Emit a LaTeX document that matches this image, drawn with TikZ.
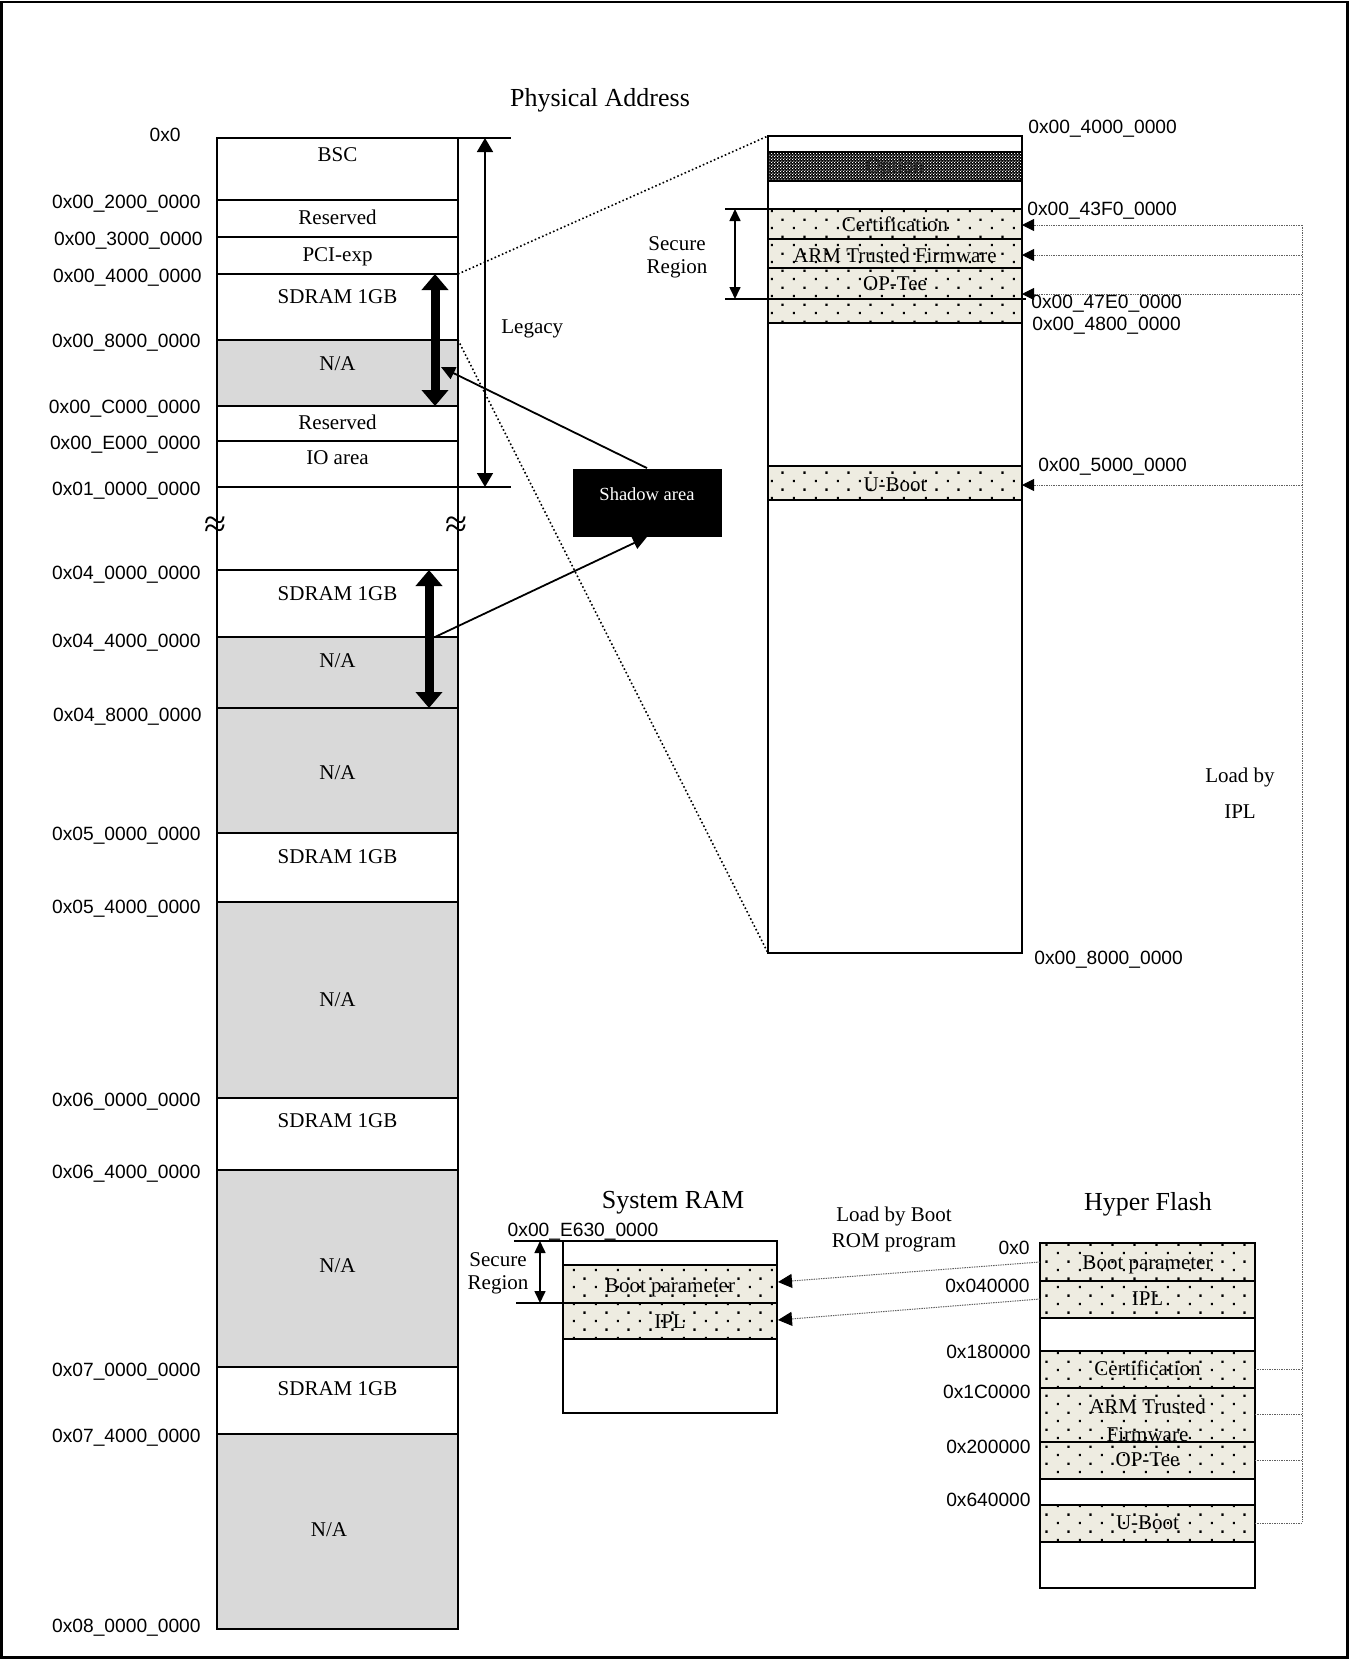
\documentclass[tikz,border=0pt]{standalone}
\usepackage{fontspec}
\setmainfont{Liberation Serif}
\newfontfamily\addrfont{Liberation Sans}
\usetikzlibrary{arrows.meta,patterns}

\pgfdeclarepatternformonly{bootdots}{\pgfqpoint{0pt}{0pt}}{\pgfqpoint{11pt}{8.4pt}}{\pgfqpoint{11pt}{8.4pt}}{%
  \pgfpathrectangle{\pgfqpoint{0.4pt}{0.4pt}}{\pgfqpoint{1.15pt}{1.15pt}}%
  \pgfpathrectangle{\pgfqpoint{5.9pt}{4.6pt}}{\pgfqpoint{1.15pt}{1.15pt}}%
  \pgfusepath{fill}}
\pgfdeclarepatternformonly{optchecker}{\pgfqpoint{0pt}{0pt}}{\pgfqpoint{1.6pt}{1.6pt}}{\pgfqpoint{1.6pt}{1.6pt}}{%
  \pgfpathrectangle{\pgfqpoint{0pt}{0pt}}{\pgfqpoint{0.7pt}{0.7pt}}%
  \pgfpathrectangle{\pgfqpoint{0.8pt}{0.8pt}}{\pgfqpoint{0.7pt}{0.7pt}}%
  \pgfusepath{fill}}

\definecolor{nagray}{HTML}{D9D9D9}
\definecolor{beige}{HTML}{EEECE1}
\definecolor{feedgray}{HTML}{606060}

\tikzset{
  memline/.style={line width=0.9pt},
  nafill/.style={fill=nagray},
  dotfill/.style={preaction={fill=beige}, pattern=bootdots, pattern color=black},
  lbl/.style={font=\fontsize{10.5pt}{12pt}\selectfont, inner sep=0pt, text height=6.5pt, text depth=0pt},
  lbltwo/.style={font=\fontsize{10.5pt}{11.5pt}\selectfont, inner sep=0pt, align=center},
  addr/.style={font=\addrfont\fontsize{9.6pt}{11pt}\selectfont, inner sep=0pt, text height=6.9pt, text depth=0pt},
  ttl/.style={font=\fontsize{13pt}{15pt}\selectfont, inner sep=0pt, text height=8.6pt, text depth=0pt},
  shadowarr/.style={line width=4.5pt,
    {Triangle[length=8pt,width=13pt]}-{Triangle[length=8pt,width=13pt]}},
  legarr/.style={line width=0.8pt,
    {Triangle[length=7pt,width=8pt]}-{Triangle[length=7pt,width=8pt]}},
  secarr/.style={line width=0.8pt,
    {Triangle[length=6pt,width=5.5pt]}-{Triangle[length=6pt,width=5.5pt]}},
  pointer/.style={line width=0.9pt, -{Triangle[length=7pt,width=6.5pt]}},
  zoomline/.style={line width=0.8pt, dash pattern=on 0.8pt off 1.2pt},
  feed/.style={line width=0.5pt, color=feedgray, dash pattern=on 0.7pt off 0.5pt},
  feedarr/.style={feed, -{Triangle[length=6pt,width=6pt]}, arrows={[color=black]}},
  romarr/.style={feed, -{Triangle[length=7pt,width=7pt]}, arrows={[color=black]}},
  brk/.style={font=\fontsize{20pt}{22pt}\selectfont, inner sep=0pt},
}

\begin{document}
\begin{tikzpicture}[x=0.5pt, y=-0.5pt]
\useasboundingbox (0,0) rectangle (1349,1659);
\draw[line width=1.3pt] (1.5,2) rectangle (1347.5,1657.5);

% ---------- Physical address column ----------
\node[ttl] (phystitle) at (600,98) {Physical Address};
\fill[nafill] (217,340) rectangle (458,406);
\fill[nafill] (217,637) rectangle (458,833);
\fill[nafill] (217,902) rectangle (458,1098);
\fill[nafill] (217,1170) rectangle (458,1367);
\fill[nafill] (217,1434) rectangle (458,1629);
\draw[memline] (217,138) rectangle (458,1629);
\foreach \yy in {200,237,274,340,406,441,487,570,637,708,833,902,1098,1170,1367,1434}
  \draw[memline] (217,\yy) -- (458,\yy);
\draw[memline] (458,138) -- (511,138);
\draw[memline] (458,487) -- (511,487);

\node[lbl] (bsc) at (337.5,155) {BSC};
\node[lbl] (res1) at (337.5,218) {Reserved};
\node[lbl] (pci) at (337.5,255) {PCI-exp};
\node[lbl] (sd0) at (337.5,297) {SDRAM 1GB};
\node[lbl] (na0) at (337.5,364) {N/A};
\node[lbl] (res2) at (337.5,423) {Reserved};
\node[lbl] (io) at (337.5,458) {IO area};
\node[lbl] (sd4) at (337.5,594) {SDRAM 1GB};
\node[lbl] (na4) at (337.5,661) {N/A};
\node[lbl] (na48) at (337.5,773) {N/A};
\node[lbl] (sd5) at (337.5,857) {SDRAM 1GB};
\node[lbl] (na54) at (337.5,1000) {N/A};
\node[lbl] (sd6) at (337.5,1121) {SDRAM 1GB};
\node[lbl] (na64) at (337.5,1266) {N/A};
\node[lbl] (sd7) at (337.5,1389) {SDRAM 1GB};
\node[lbl] (na74) at (329,1530) {N/A};

\node[brk] (brkl) at (215,527) {≈};
\node[brk] (brkr) at (456,527) {≈};

\node[addr, anchor=east] (a0) at (181,135) {0x0};
\node[addr, anchor=east] (a1) at (201,202) {0x00\_2000\_0000};
\node[addr, anchor=east] (a2) at (203,239) {0x00\_3000\_0000};
\node[addr, anchor=east] (a3) at (202,276) {0x00\_4000\_0000};
\node[addr, anchor=east] (a4) at (201,341) {0x00\_8000\_0000};
\node[addr, anchor=east] (a5) at (201,407) {0x00\_C000\_0000};
\node[addr, anchor=east] (a6) at (201,443) {0x00\_E000\_0000};
\node[addr, anchor=east] (a7) at (201,489) {0x01\_0000\_0000};
\node[addr, anchor=east] (a8) at (201,573) {0x04\_0000\_0000};
\node[addr, anchor=east] (a9) at (201,641) {0x04\_4000\_0000};
\node[addr, anchor=east] (a10) at (202,715) {0x04\_8000\_0000};
\node[addr, anchor=east] (a11) at (201,834) {0x05\_0000\_0000};
\node[addr, anchor=east] (a12) at (201,907) {0x05\_4000\_0000};
\node[addr, anchor=east] (a13) at (201,1100) {0x06\_0000\_0000};
\node[addr, anchor=east] (a14) at (201,1172) {0x06\_4000\_0000};
\node[addr, anchor=east] (a15) at (201,1370) {0x07\_0000\_0000};
\node[addr, anchor=east] (a16) at (201,1436) {0x07\_4000\_0000};
\node[addr, anchor=east] (a17) at (201,1626) {0x08\_0000\_0000};

% Legacy
\coordinate (legtop) at (485,138);
\coordinate (legbot) at (485,487);
\draw[legarr] (legtop) -- (legbot);
\node[lbl, anchor=west] (legacy) at (501,327) {Legacy};

% Shadow arrows
\coordinate (sh1t) at (435,274);
\coordinate (sh1b) at (435,406);
\coordinate (sh2t) at (429,570);
\coordinate (sh2b) at (429,708);
\draw[shadowarr] (sh1t) -- (sh1b);
\draw[shadowarr] (sh2t) -- (sh2b);
\node[fill=black, minimum width=74.5pt, minimum height=34pt, inner sep=0pt] (shadow) at (647,502.5) {};
\node[font=\fontsize{9.25pt}{11pt}\selectfont, text=white, inner sep=0pt, text height=6pt, text depth=0pt] (shadowtxt) at (647,494) {Shadow area};
\coordinate (shhit) at (441,367);
\coordinate (shsrc) at (435,637);
\draw[pointer] (shadow.north) -- (shhit);
\draw[pointer] (shsrc) -- (shadow.south);

% ---------- Zoomed SDRAM region ----------
\coordinate (phys4) at (458,274);
\coordinate (phys8) at (458,340);
\coordinate (rbtl) at (768,136);
\coordinate (rbbl) at (768,953);
\draw[zoomline] (phys4) -- (rbtl);
\draw[zoomline] (phys8) -- (rbbl);

\fill[black] (768,152) rectangle (1022,181);
\fill[pattern=optchecker, pattern color=white] (768,152) rectangle (1022,181);
\fill[dotfill] (768,209) rectangle (1022,323);
\fill[dotfill] (768,466) rectangle (1022,500);
\draw[memline] (rbtl) rectangle (1022,953);
\foreach \yy in {152,181,209,239,268,323,466,500}
  \draw[memline] (768,\yy) -- (1022,\yy);
\node[lbl, text=black!85] (opt) at (895,166) {Option};
\node[lbl] (rcert) at (895,225) {Certification};
\node[lbl] (ratf) at (895,256) {ARM Trusted Firmware};
\node[lbl] (rop) at (895,284) {OP-Tee};
\node[lbl] (rub) at (895,485) {U-Boot};

\coordinate (sectop) at (725,209);
\coordinate (secbot) at (725,299);
\draw[memline] (sectop) -- (768,209);
\draw[memline] (secbot) -- (1026,299);
\draw[secarr] (735,209) -- (735,299);
\node[lbltwo] (secreg1) at (677,257) {Secure\\Region};

\node[addr, anchor=west] (r1) at (1028,127) {0x00\_4000\_0000};
\node[addr, anchor=west] (r2) at (1027,209) {0x00\_43F0\_0000};
\node[addr, anchor=west] (r3) at (1031,302) {0x00\_47E0\_0000};
\node[addr, anchor=west] (r4) at (1032,324) {0x00\_4800\_0000};
\node[addr, anchor=west] (r5) at (1038,465) {0x00\_5000\_0000};
\node[addr, anchor=west] (r6) at (1034,958) {0x00\_8000\_0000};

% ---------- System RAM ----------
\node[ttl] (sysram) at (673,1200) {System RAM};
\fill[dotfill] (563,1265) rectangle (777,1339);
\draw[memline] (563,1241) rectangle (777,1413);
\foreach \yy in {1265,1303,1339}
  \draw[memline] (563,\yy) -- (777,\yy);
\draw[memline] (514,1241) -- (563,1241);
\draw[memline] (516,1303) -- (563,1303);
\draw[secarr] (540,1241) -- (540,1303);
\node[lbltwo] (secreg2) at (498,1273) {Secure\\Region};
\node[addr] (sraddr) at (583,1230) {0x00\_E630\_0000};
\node[lbl] (srbp) at (670,1286) {Boot parameter};
\node[lbl] (sripl) at (670,1322) {IPL};

% ---------- Hyper Flash ----------
\node[ttl] (hftitle) at (1148,1202) {Hyper Flash};
\fill[dotfill] (1040,1243) rectangle (1255,1318);
\fill[dotfill] (1040,1351) rectangle (1255,1479);
\fill[dotfill] (1040,1505) rectangle (1255,1542);
\draw[memline] (1040,1243) rectangle (1255,1588);
\foreach \yy in {1281,1318,1351,1388,1442,1479,1505,1542}
  \draw[memline] (1040,\yy) -- (1255,\yy);
\node[lbl] (hfbp) at (1147.5,1263) {Boot parameter};
\node[lbl] (hfipl) at (1147.5,1299) {IPL};
\node[lbl] (hfcert) at (1147.5,1369) {Certification};
\node[font=\fontsize{10.5pt}{14pt}\selectfont, inner sep=0pt, align=center] (hfatf) at (1147.5,1420) {ARM Trusted\\Firmware};
\node[lbl] (hfop) at (1147.5,1460) {OP-Tee};
\node[lbl] (hfub) at (1147.5,1523) {U-Boot};

\node[addr, anchor=east] (h0) at (1030,1248) {0x0};
\node[addr, anchor=east] (h1) at (1030,1286) {0x040000};
\node[addr, anchor=east] (h2) at (1031,1352) {0x180000};
\node[addr, anchor=east] (h3) at (1031,1392) {0x1C0000};
\node[addr, anchor=east] (h4) at (1031,1447) {0x200000};
\node[addr, anchor=east] (h5) at (1031,1500) {0x640000};

% Boot ROM load
\node[font=\fontsize{10.5pt}{13pt}\selectfont, inner sep=0pt, align=center] (romtxt) at (894,1229) {Load by Boot\\ROM program};
\coordinate (hfbpW) at (1040,1262);
\coordinate (hfiplW) at (1040,1299);
\coordinate (srbpE) at (778,1282);
\coordinate (sriplE) at (778,1320);
\draw[romarr] (hfbpW) -- (srbpE);
\draw[romarr] (hfiplW) -- (sriplE);

% IPL load bus
\coordinate (busx) at (1302,0);
\coordinate (hfCe) at (1255,1369);
\coordinate (hfAe) at (1255,1414);
\coordinate (hfOe) at (1255,1460);
\coordinate (hfUe) at (1255,1523);
\coordinate (rbC) at (1022,225);
\coordinate (rbA) at (1022,255);
\coordinate (rbO) at (1022,294);
\coordinate (rbU) at (1022,485);
\draw[feed] (busx |- rbC) -- (busx |- hfUe);
\foreach \p in {hfCe,hfAe,hfOe,hfUe} \draw[feed] (\p) -- (busx |- \p);
\foreach \p in {rbC,rbA,rbO,rbU} \draw[feedarr] (busx |- \p) -- (\p);
\node[font=\fontsize{10.5pt}{18pt}\selectfont, inner sep=0pt, align=center] (ipltxt) at (1240,793) {Load by\\IPL};
\end{tikzpicture}
\end{document}
